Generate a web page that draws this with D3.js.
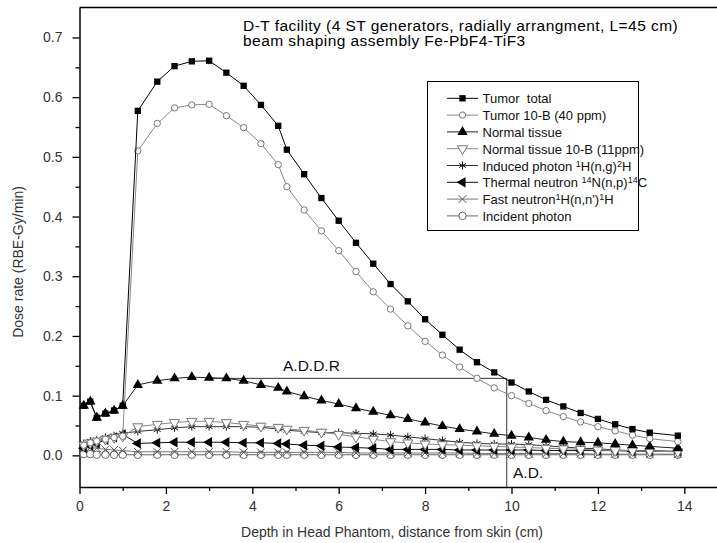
<!DOCTYPE html>
<html>
<head>
<meta charset="utf-8">
<script src="https://cdn.jsdelivr.net/npm/d3@7"></script>
<style>
  body { margin: 0; background: #fff; }
  svg { font-family: 'Liberation Sans', Arial, sans-serif; }
</style>
</head>
<body>
<div class="chart"></div>
<script>
const width = 717;
const height = 543;

// depth in head phantom (cm)
const depth = [0.1, 0.25, 0.4, 0.6, 0.8, 1.0, 1.35, 1.8, 2.2, 2.6, 3.0, 3.4, 3.8, 4.2, 4.6, 4.8,
  5.2, 5.6, 6.0, 6.4, 6.8, 7.2, 7.6, 8.0, 8.4, 8.8, 9.2, 9.6, 10.0, 10.4, 10.8, 11.2,
  11.6, 12.0, 12.4, 12.8, 13.2, 13.85];

const tumorTotal = [0.083, 0.090, 0.063, 0.070, 0.075, 0.083, 0.577, 0.626, 0.652, 0.660, 0.661, 0.641, 0.619, 0.587, 0.552, 0.512,
  0.471, 0.431, 0.393, 0.356, 0.321, 0.287, 0.258, 0.228, 0.202, 0.177, 0.156, 0.139, 0.122, 0.107, 0.093, 0.082,
  0.071, 0.061, 0.052, 0.044, 0.038, 0.033];
const tumorB10 = [0.017, 0.021, 0.024, 0.027, 0.030, 0.032, 0.510, 0.556, 0.582, 0.587, 0.588, 0.569, 0.549, 0.522, 0.487, 0.450,
  0.411, 0.376, 0.343, 0.308, 0.274, 0.245, 0.217, 0.191, 0.168, 0.148, 0.129, 0.113, 0.100, 0.087, 0.075, 0.065,
  0.056, 0.048, 0.041, 0.034, 0.028, 0.023];
const normalTissue = [0.083, 0.090, 0.063, 0.070, 0.075, 0.083, 0.118, 0.125, 0.129, 0.131, 0.130, 0.129, 0.125, 0.118, 0.113, 0.107,
  0.099, 0.092, 0.086, 0.079, 0.073, 0.067, 0.061, 0.055, 0.049, 0.044, 0.040, 0.036, 0.033, 0.030, 0.026, 0.023,
  0.022, 0.021, 0.019, 0.017, 0.015, 0.012];
const normalB10 = [0.017, 0.021, 0.024, 0.027, 0.030, 0.032, 0.048, 0.052, 0.055, 0.057, 0.057, 0.055, 0.052, 0.049, 0.047, 0.044,
  0.042, 0.039, 0.035, 0.031, 0.027, 0.023, 0.021, 0.019, 0.018, 0.017, 0.016, 0.015, 0.014, 0.013, 0.012, 0.011,
  0.010, 0.009, 0.008, 0.008, 0.007, 0.006];
const inducedPhoton = [0.020, 0.024, 0.026, 0.030, 0.033, 0.037, 0.040, 0.043, 0.046, 0.048, 0.048, 0.048, 0.048, 0.047, 0.044, 0.042,
  0.040, 0.038, 0.038, 0.037, 0.036, 0.034, 0.031, 0.028, 0.025, 0.022, 0.020, 0.019, 0.019, 0.018, 0.016, 0.014,
  0.012, 0.011, 0.009, 0.008, 0.008, 0.006];
const thermalNeutron = [0.012, 0.016, 0.020, 0.026, 0.030, 0.035, 0.020, 0.021, 0.022, 0.022, 0.022, 0.022, 0.021, 0.021, 0.020, 0.019,
  0.017, 0.016, 0.014, 0.013, 0.012, 0.010, 0.010, 0.010, 0.010, 0.009, 0.009, 0.009, 0.009, 0.009, 0.008, 0.008,
  0.008, 0.008, 0.008, 0.007, 0.007, 0.007];
const fastNeutron = [0.012, 0.013, 0.012, 0.010, 0.009, 0.008, 0.006, 0.006, 0.006, 0.006, 0.006, 0.006, 0.005, 0.005, 0.005, 0.005,
  0.005, 0.005, 0.005, 0.004, 0.004, 0.004, 0.004, 0.004, 0.004, 0.004, 0.003, 0.003, 0.003, 0.003, 0.003, 0.003,
  0.003, 0.002, 0.002, 0.002, 0.002, 0.002];
const incidentPhoton = [0.002, 0.002, 0.001, 0.001, 0.001, 0.001, 0.001, 0.001, 0.001, 0.001, 0.001, 0.001, 0.001, 0.001, 0.001, 0.001,
  0.001, 0.001, 0.001, 0.001, 0.001, 0.001, 0.001, 0.001, 0.001, 0.001, 0.001, 0.001, 0.001, 0.001, 0.001, 0.001,
  0.001, 0.001, 0.001, 0.001, 0.001, 0.001];

const xTicks = [0, 2, 4, 6, 8, 10, 12, 14];
const yTicks = [0.0, 0.1, 0.2, 0.3, 0.4, 0.5, 0.6, 0.7];

const titleLines = ['D-T facility (4 ST generators, radially arrangment, L=45 cm)',
  'beam shaping assembly Fe-PbF4-TiF3'];

// advantage depth and its dose rate
const advDepth = 9.89;
const advDose = 0.129;
const addrStart = 3.0;

// legend entries, in legend order; label parts: [text, superscript?]
const series = [
  { label: [['Tumor  total']], values: tumorTotal, symbol: 'square', line: '#000', fill: '#000', stroke: 'none', size: 40 },
  { label: [['Tumor 10-B (40 ppm)']], values: tumorB10, symbol: 'circle', line: '#888', fill: '#fff', stroke: '#777', size: 32 },
  { label: [['Normal tissue']], values: normalTissue, symbol: 'triangle', line: '#222', fill: '#000', stroke: 'none', size: 46 },
  { label: [['Normal tissue 10-B (11ppm)']], values: normalB10, symbol: 'down', line: '#888', fill: '#fff', stroke: '#777', size: 44 },
  { label: [['Induced photon '], ['1', true], ['H(n,g)'], ['2', true], ['H']], values: inducedPhoton, symbol: 'asterisk', line: '#333', fill: 'none', stroke: '#111', size: 44 },
  { label: [['Thermal neutron '], ['14', true], ['N(n,p)'], ['14', true], ['C']], values: thermalNeutron, symbol: 'left', line: '#111', fill: '#000', stroke: 'none', size: 46 },
  { label: [['Fast neutron'], ['1', true], ['H(n,n\')'], ['1', true], ['H']], values: fastNeutron, symbol: 'times', line: '#777', fill: 'none', stroke: '#555', size: 42 },
  { label: [['Incident photon']], values: incidentPhoton, symbol: 'circle', line: '#666', fill: '#fff', stroke: '#666', size: 44 }
];

const svg = d3
  .select('.chart')
  .append('svg')
  .attr('width', width)
  .attr('height', height);

const x = d3.scaleLinear().domain([0, 15]).range([79.5, 727.5]);
const y = d3.scaleLinear().domain([-0.053, 0.75]).range([487, 7.6]);

function symbolPath(name, size) {
  const types = {
    square: d3.symbolSquare,
    circle: d3.symbolCircle,
    triangle: d3.symbolTriangle,
    down: d3.symbolTriangle,
    left: d3.symbolTriangle,
    asterisk: d3.symbolAsterisk,
    times: d3.symbolTimes
  };
  return d3.symbol().type(types[name]).size(size)();
}
function symbolRotate(name) {
  if (name === 'down') return ' rotate(180)';
  if (name === 'left') return ' rotate(-90)';
  return '';
}

// frame
svg.append('line')
  .attr('x1', x(0)).attr('x2', width)
  .attr('y1', y(0.75)).attr('y2', y(0.75))
  .attr('stroke', '#000').attr('stroke-width', 1.5);

// axes
const xAxis = svg.append('g')
  .attr('transform', `translate(0,${y(-0.053)})`)
  .call(d3.axisBottom(x).tickValues(xTicks).tickFormat(d3.format('d')).tickSize(7).tickSizeOuter(0));
svg.append('g')
  .attr('transform', `translate(0,${y(-0.053)})`)
  .call(d3.axisBottom(x).tickValues([1, 3, 5, 7, 9, 11, 13]).tickFormat('').tickSize(4).tickSizeOuter(0))
  .select('.domain').remove();

const yAxis = svg.append('g')
  .attr('transform', `translate(${x(0)},0)`)
  .call(d3.axisLeft(y).tickValues(yTicks).tickFormat(d3.format('.1f')).tickSize(7).tickSizeOuter(0));
svg.append('g')
  .attr('transform', `translate(${x(0)},0)`)
  .call(d3.axisLeft(y).tickValues([0.05, 0.15, 0.25, 0.35, 0.45, 0.55, 0.65]).tickFormat('').tickSize(4).tickSizeOuter(0))
  .select('.domain').remove();

svg.selectAll('.domain').attr('stroke', '#000').attr('stroke-width', 1.5);
svg.selectAll('.tick line').attr('stroke', '#000').attr('stroke-width', 1.3);
xAxis.selectAll('text').attr('font-size', 14).attr('fill', '#333').attr('dy', '1.0em');
yAxis.selectAll('text').attr('font-size', 14).attr('fill', '#333').attr('dx', '-7px');

svg.append('text')
  .attr('x', 392).attr('y', 537)
  .attr('text-anchor', 'middle')
  .attr('font-size', 14).attr('fill', '#333')
  .text('Depth in Head Phantom, distance from skin (cm)');
svg.append('text')
  .attr('transform', 'translate(23,262) rotate(-90)')
  .attr('text-anchor', 'middle')
  .attr('font-size', 14).attr('fill', '#333')
  .text('Dose rate (RBE-Gy/min)');

// A.D. / A.D.D.R guide lines
svg.append('path')
  .attr('d', d3.line()([[x(addrStart), y(advDose)], [x(advDepth), y(advDose)], [x(advDepth), y(-0.053)]]))
  .attr('fill', 'none').attr('stroke', '#333').attr('stroke-width', 1);
svg.append('text')
  .attr('x', 283).attr('y', 371)
  .attr('font-size', 15.5).attr('fill', '#111')
  .text('A.D.D.R');
svg.append('text')
  .attr('x', 513).attr('y', 477.5)
  .attr('font-size', 15.5).attr('fill', '#111')
  .text('A.D.');

// curves, bottom series first
const line = d3.line().x(d => x(d[0])).y(d => y(d[1]));
series.slice().reverse().forEach(s => {
  const pts = depth.map((d, i) => [d, s.values[i]]);
  svg.append('path')
    .attr('d', line(pts))
    .attr('fill', 'none')
    .attr('stroke', s.line)
    .attr('stroke-width', 1);
  svg.append('g')
    .selectAll('path')
    .data(pts)
    .enter()
    .append('path')
    .attr('d', symbolPath(s.symbol, s.size))
    .attr('transform', d => `translate(${x(d[0])},${y(d[1])})` + symbolRotate(s.symbol))
    .attr('fill', s.fill)
    .attr('stroke', s.stroke)
    .attr('stroke-width', 1);
});

// title
svg.append('text')
  .attr('x', 243).attr('y', 30.5)
  .attr('font-size', 15.5)
  .attr('letter-spacing', '0.45px')
  .selectAll('tspan')
  .data(titleLines)
  .enter()
  .append('tspan')
  .attr('x', 243)
  .attr('dy', (d, i) => (i === 0 ? 0 : 15.5))
  .text(d => d);

// legend
const legend = svg.append('g');
legend.append('rect')
  .attr('x', 427.5).attr('y', 81.5)
  .attr('width', 211).attr('height', 149)
  .attr('fill', '#fff').attr('stroke', '#000').attr('stroke-width', 1);

series.forEach((s, i) => {
  const ly = 98.3 + i * 16.8;
  legend.append('line')
    .attr('x1', 447).attr('x2', 478)
    .attr('y1', ly).attr('y2', ly)
    .attr('stroke', s.line).attr('stroke-width', 1);
  legend.append('path')
    .attr('d', symbolPath(s.symbol, s.size))
    .attr('transform', `translate(462.5,${ly})` + symbolRotate(s.symbol))
    .attr('fill', s.fill)
    .attr('stroke', s.stroke)
    .attr('stroke-width', 1);
  const t = legend.append('text')
    .attr('x', 482.5).attr('y', ly + 5)
    .attr('font-size', 13)
    .attr('fill', '#111')
    .style('white-space', 'pre');
  s.label.forEach(part => {
    t.append('tspan')
      .attr('font-size', part[1] ? 9 : 13)
      .attr('baseline-shift', part[1] ? '45%' : null)
      .text(part[0]);
  });
});
</script>
</body>
</html>
